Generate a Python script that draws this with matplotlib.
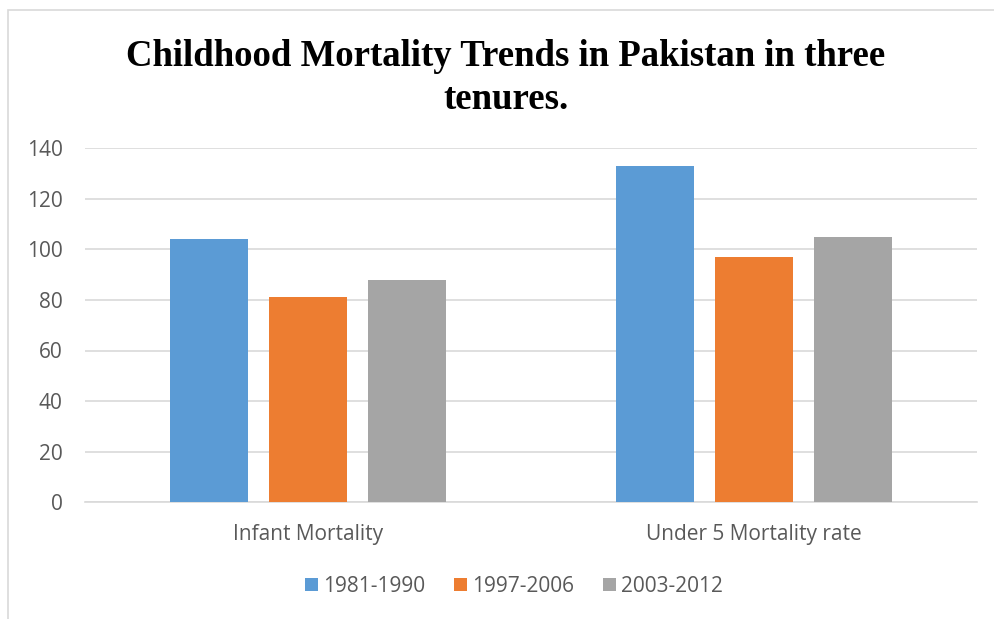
import matplotlib
matplotlib.use("Agg")
import matplotlib.pyplot as plt
import numpy as np
from matplotlib.patches import Rectangle

categories = ["Infant Mortality", "Under 5 Mortality rate"]
series_names = ["1981-1990", "1997-2006", "2003-2012"]
values_1981_1990 = [104, 133]
values_1997_2006 = [81, 97]
values_2003_2012 = [88, 105]
colors = ["#5B9BD5", "#ED7D31", "#A5A5A5"]
yticks = [0, 20, 40, 60, 80, 100, 120, 140]

W, H = 994, 619
fig = plt.figure(figsize=(W / 100, H / 100), dpi=100)
fig.patch.set_facecolor("white")

# chart border
fig.patches.append(Rectangle((8 / W, -0.05), 1.1, 1 - 10 / H + 0.05, transform=fig.transFigure,
                             fill=False, edgecolor="#D9D9D9", linewidth=1.2))

ax = fig.add_axes([85 / W, 1 - 502 / H, (977 - 85) / W, (502 - 148.5) / H])
x = np.arange(len(categories))
bw = 0.173
offs = [-0.222, 0.0, 0.222]
for vals, name, c, o in zip([values_1981_1990, values_1997_2006, values_2003_2012], series_names, colors, offs):
    ax.bar(x + o, vals, width=bw, color=c, label=name, zorder=3)

ax.set_xlim(-0.5, 1.5)
ax.set_ylim(0, 140)
ax.set_yticks(yticks)
ax.set_xticks(x)
ax.set_xticklabels(categories)
ax.grid(axis="y", color="#D9D9D9", linewidth=1.2, zorder=0)
for s in ["top", "right", "left"]:
    ax.spines[s].set_visible(False)
ax.spines["bottom"].set_color("#D9D9D9")
ax.spines["bottom"].set_linewidth(1.2)
ax.tick_params(axis="both", length=0, labelsize=15, labelcolor="#595959")
ax.tick_params(axis="y", pad=16)
ax.tick_params(axis="x", pad=16)
for lab in ax.get_xticklabels() + ax.get_yticklabels():
    lab.set_fontfamily("Open Sans")

fig.text(506 / W, 1 - 78 / H, "Childhood Mortality Trends in Pakistan in three\ntenures.",
         ha="center", va="center", fontsize=26.5, fontweight="bold", family="Liberation Serif",
         linespacing=1.3)

leg = fig.legend(loc="center", bbox_to_anchor=(514 / W, 1 - 586 / H), ncol=3, frameon=False,
                 prop={"family": "Open Sans", "size": 15}, handlelength=0.6, handleheight=0.6,
                 handletextpad=0.25, columnspacing=1.4)
for t in leg.get_texts():
    t.set_color("#595959")

fig.savefig("out.png", dpi=100)
